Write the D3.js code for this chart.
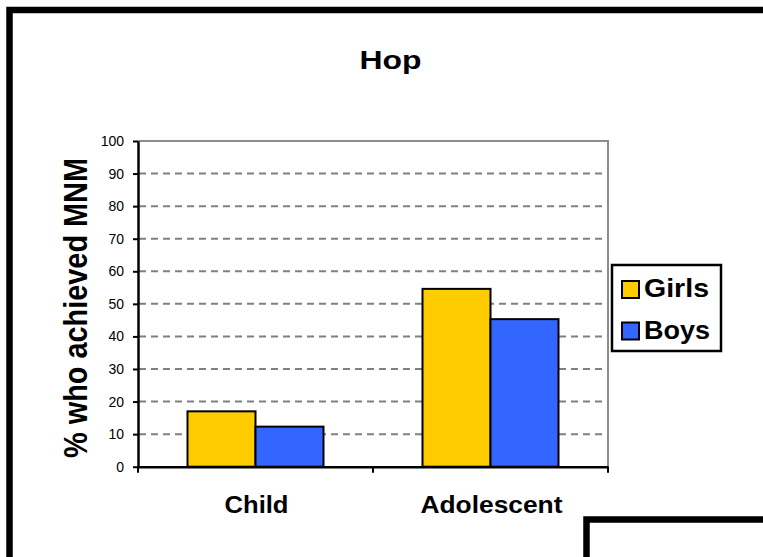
<!DOCTYPE html>
<html>
<head>
<meta charset="utf-8">
<script src="https://cdn.jsdelivr.net/npm/d3@7"></script>
<style>
  html, body { margin: 0; padding: 0; background: #fff; }
  svg { display: block; font-family: "Liberation Sans", Arial, sans-serif; }
</style>
</head>
<body>
<svg id="chart" width="763" height="557"></svg>
<script>
// Percentage of children reaching minimum normative movement for hopping
const categories = ["Child", "Adolescent"];
const seriesNames = ["Girls", "Boys"];
const girls = [17, 54.6];
const boys = [12.3, 45.3];
const yTicks = [0, 10, 20, 30, 40, 50, 60, 70, 80, 90, 100];
const colors = ["#FFCC00", "#3366FF"];

const svg = d3.select("#chart");

// Outer frame (open on right and bottom)
svg.append("path")
  .attr("d", "M9.5,557 L9.5,10 L763,10")
  .attr("fill", "none").attr("stroke", "#000").attr("stroke-width", 6.5);

// Partial frame in the lower-right corner
svg.append("path")
  .attr("d", "M586.5,557 L586.5,519.5 L763,519.5")
  .attr("fill", "none").attr("stroke", "#000").attr("stroke-width", 6.5);

const plot = { left: 138, right: 608, top: 141, bottom: 466.7 };

const x0 = d3.scaleBand().domain(categories).range([plot.left, plot.right]);
const x1 = d3.scaleBand().domain(seriesNames).range([0, 136]);
const y = d3.scaleLinear().domain([0, 100]).range([plot.bottom, plot.top]);

// Title
svg.append("text")
  .attr("x", 390.5).attr("y", 69)
  .attr("text-anchor", "middle")
  .attr("font-weight", "bold").attr("font-size", 26)
  .attr("textLength", 62).attr("lengthAdjust", "spacingAndGlyphs")
  .text("Hop");

// Gridlines
svg.append("g").selectAll("line")
  .data(yTicks.filter(d => d > 0 && d < 100))
  .join("line")
  .attr("x1", plot.left + 1).attr("x2", plot.right)
  .attr("y1", d => y(d)).attr("y2", d => y(d))
  .attr("stroke", "#808080").attr("stroke-width", 2)
  .attr("stroke-dasharray", "7,5");

// Plot area border: top and right in gray
svg.append("path")
  .attr("d", `M${plot.left},${y(100)} L${plot.right},${y(100)} L${plot.right},${plot.bottom}`)
  .attr("fill", "none").attr("stroke", "#8c8c8c").attr("stroke-width", 2);

// Bars
const data = categories.map((c, i) => ({ cat: c, values: [girls[i], boys[i]] }));
const groups = svg.append("g").selectAll("g")
  .data(data)
  .join("g")
  .attr("transform", d => `translate(${x0(d.cat) + (x0.bandwidth() - 136) / 2},0)`);

groups.selectAll("rect")
  .data(d => d.values.map((v, j) => ({ name: seriesNames[j], v, j })))
  .join("rect")
  .attr("x", d => x1(d.name))
  .attr("width", x1.bandwidth())
  .attr("y", d => y(d.v))
  .attr("height", d => y(0) - y(d.v))
  .attr("fill", d => colors[d.j])
  .attr("stroke", "#000").attr("stroke-width", 2);

// Y axis
const yAxis = d3.axisLeft(y).tickValues(yTicks).tickSize(5).tickSizeOuter(0).tickPadding(9);
const gy = svg.append("g").attr("transform", `translate(${plot.left},0)`).call(yAxis);
gy.attr("font-size", 14);
gy.select(".domain").attr("stroke", "#000").attr("stroke-width", 2.5);
gy.selectAll(".tick line").attr("stroke", "#000").attr("stroke-width", 2);
gy.selectAll(".tick text")
  .attr("font-family", "Liberation Sans, Arial, sans-serif")
  .style("font-size", "14px").attr("fill", "#000");

// X axis
const xAxis = d3.axisBottom(x0).tickSize(0).tickFormat("");
const gx = svg.append("g").attr("transform", `translate(0,${plot.bottom})`).call(xAxis);
gx.select(".domain").attr("stroke", "#000").attr("stroke-width", 2.5);
gx.selectAll(".tick").remove();

// Category separator ticks on x axis
const sepTicks = [plot.left, ...categories.slice(1).map(c => x0(c)), plot.right];
svg.append("g").selectAll("line")
  .data(sepTicks)
  .join("line")
  .attr("x1", d => d).attr("x2", d => d)
  .attr("y1", plot.bottom).attr("y2", plot.bottom + 6)
  .attr("stroke", "#000").attr("stroke-width", 2);

// Category labels
const catLen = { "Child": 64, "Adolescent": 142 };
svg.append("g").selectAll("text")
  .data(categories)
  .join("text")
  .attr("x", d => x0(d) + x0.bandwidth() / 2 + 1)
  .attr("y", 513)
  .attr("text-anchor", "middle")
  .attr("font-weight", "bold").attr("font-size", 24)
  .attr("textLength", d => catLen[d]).attr("lengthAdjust", "spacingAndGlyphs")
  .text(d => d);

// Y axis title
svg.append("text")
  .attr("transform", `translate(87,308) scale(1.12,1) rotate(-90)`)
  .attr("text-anchor", "middle")
  .attr("font-weight", "bold").attr("font-size", 29)
  .attr("textLength", 300).attr("lengthAdjust", "spacingAndGlyphs")
  .text("% who achieved MNM");

// Legend
const legend = svg.append("g");
legend.append("rect")
  .attr("x", 612).attr("y", 265).attr("width", 109).attr("height", 86)
  .attr("fill", "#fff").attr("stroke", "#000").attr("stroke-width", 2.5);
const legLen = { "Girls": 65, "Boys": 66 };
const items = legend.selectAll("g.item")
  .data(seriesNames)
  .join("g").attr("class", "item")
  .attr("transform", (d, i) => `translate(622,${281 + i * 41.5})`);
items.append("rect")
  .attr("width", 17).attr("height", 17)
  .attr("fill", (d, i) => colors[i])
  .attr("stroke", "#000").attr("stroke-width", 2);
items.append("text")
  .attr("x", 22).attr("y", 16)
  .attr("font-weight", "bold").attr("font-size", 26)
  .attr("textLength", d => legLen[d]).attr("lengthAdjust", "spacingAndGlyphs")
  .text(d => d);
</script>
</body>
</html>
